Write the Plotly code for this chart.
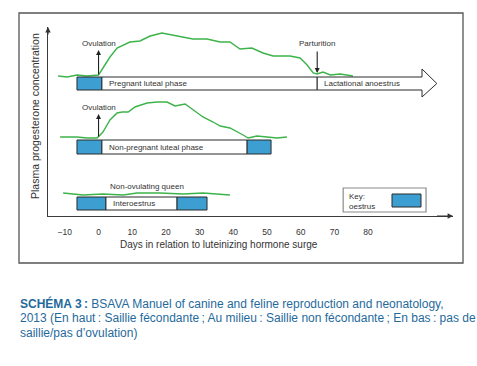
import plotly.graph_objects as go

# ---------------- data ----------------
# Days relative to the LH surge and plasma progesterone (relative units above each row's baseline)
preg_days = [-12.0, -9.3, -6.4, -3.4, 0.0, 3.4, 5.5, 9.3, 12.3, 15.3, 18.8, 22.1, 25.1, 28.0, 32.2,
             36.1, 39.0, 42.0, 45.5, 48.8, 51.8, 56.8, 59.8, 61.9, 63.7, 64.9, 66.6, 68.8, 71.7, 75.5]
preg_p4 = [0, -1, 1, 0, 1, 19, 28, 34, 35, 40, 43, 41, 39, 37, 37,
           34, 34, 27, 28, 23, 20, 20, 18, 11, 3, 2, 4, 1, 2, 0]

nonpreg_days = [-11.4, -6.4, -3.4, -0.4, 1.3, 3.4, 5.5, 7.0, 8.8, 10.8, 14.4, 17.4, 20.3, 22.7,
                25.7, 28.0, 31.0, 34.0, 36.1, 39.0, 41.4, 42.9, 44.4, 47.0, 50.0, 53.0, 55.9]
nonpreg_p4 = [1, 1, 0, 0, 6, 18, 25, 26, 26, 31, 35, 36, 36, 32,
              34, 28, 21, 16, 12, 10, 6, 3, 0, 2, 1, 0, 1]

nonovul_days = [-10.5, -4.6, 1.3, 7.3, 11.4, 18.2, 25.1, 31.0, 39.0]
nonovul_p4 = [1, -1, 0, -1, 1, 1, 0, 1, -1]

# Phases (start day, end day, label)
preg_phases = [(-6.4, 1.0, "oestrus"), (1.0, 64.9, "Pregnant luteal phase"),
               (64.9, 96.0, "Lactational anoestrus")]
nonpreg_phases = [(-6.4, 1.0, "oestrus"), (1.0, 44.1, "Non-pregnant luteal phase"),
                  (44.1, 51.2, "oestrus")]
nonovul_phases = [(-6.4, 2.2, "oestrus"), (2.2, 23.3, "Interoestrus"), (23.3, 32.2, "oestrus")]

ovulation_day = 0.0
parturition_day = 64.9

x_ticks = [-10, 0, 10, 20, 30, 40, 50, 60, 70, 80]

# ---------------- styling ----------------
W, H = 477, 366
ML, MR, MT, MB = 48, 24, 27, 150
GREEN = "#3cb44a"
BLUE = "#3d9fd1"
EDGE = "#2a2a2a"
TXT = "#333333"
FONT = "Liberation Sans, Arial, sans-serif"

def px2paper_x(px):
    return (px - ML) / (W - ML - MR)

def px2paper_y(py):
    return (H - MB - py) / (H - MT - MB)

rows = {  # baseline of curve, bar bottom, bar top
    "preg": (140, 126, 139),
    "nonpreg": (78, 62, 76),
    "nonovul": (22, 6, 19),
}

fig = go.Figure()

for days, p4, key in [(preg_days, preg_p4, "preg"), (nonpreg_days, nonpreg_p4, "nonpreg"),
                      (nonovul_days, nonovul_p4, "nonovul")]:
    base = rows[key][0]
    fig.add_trace(go.Scatter(x=days, y=[base + v for v in p4], mode="lines",
                             line=dict(color=GREEN, width=1.4), hoverinfo="skip",
                             showlegend=False))

shapes = []
annotations = []

def add_phases(phases, key, arrow_last=False):
    _, y0, y1 = rows[key]
    for i, (s, e, label) in enumerate(phases):
        fill = BLUE if label == "oestrus" else "white"
        if arrow_last and i == len(phases) - 1:
            ym = (y0 + y1) / 2
            path = (f"M {s},{y0} L {e},{y0} L {e},{y0-7} L {e+4.4},{ym} L {e},{y1+8} "
                    f"L {e},{y1} L {s},{y1} Z")
            shapes.append(dict(type="path", path=path, xref="x", yref="y",
                               fillcolor="white", line=dict(color=EDGE, width=1)))
        else:
            shapes.append(dict(type="rect", xref="x", yref="y", x0=s, x1=e, y0=y0, y1=y1,
                               fillcolor=fill, line=dict(color=EDGE, width=1)))
        if label != "oestrus":
            annotations.append(dict(x=s + 1.5, y=(y0 + y1) / 2, xref="x", yref="y",
                                    text=label, showarrow=False, xanchor="left",
                                    yanchor="middle",
                                    font=dict(size=8, color=TXT, family=FONT)))

add_phases(preg_phases, "preg", arrow_last=True)
add_phases(nonpreg_phases, "nonpreg")
add_phases(nonovul_phases, "nonovul")

# Ovulation arrows and labels
for key, tip, label_y in [("preg", 166, 173), ("nonpreg", 102, 109)]:
    base = rows[key][0]
    annotations.append(dict(x=ovulation_day, y=tip, ax=ovulation_day, ay=base,
                            xref="x", yref="y", axref="x", ayref="y", text="",
                            showarrow=True, arrowhead=2, arrowsize=0.9, arrowwidth=1.1,
                            arrowcolor="#222"))
    annotations.append(dict(x=ovulation_day, y=label_y, xref="x", yref="y",
                            text="Ovulation", showarrow=False, yanchor="middle",
                            font=dict(size=8, color=TXT, family=FONT)))

# Parturition
annotations.append(dict(x=parturition_day, y=143, ax=parturition_day, ay=166,
                        xref="x", yref="y", axref="x", ayref="y", text="",
                        showarrow=True, arrowhead=2, arrowsize=0.9, arrowwidth=1.1,
                        arrowcolor="#222"))
annotations.append(dict(x=parturition_day, y=173, xref="x", yref="y", text="Parturition",
                        showarrow=False, yanchor="middle",
                        font=dict(size=8, color=TXT, family=FONT)))

annotations.append(dict(x=14.4, y=30, xref="x", yref="y", text="Non-ovulating queen",
                        showarrow=False, yanchor="middle",
                        font=dict(size=8, color=TXT, family=FONT)))

# Key box
shapes.append(dict(type="rect", xref="x", yref="y", x0=72.6, x1=97.2, y0=4, y1=28,
                   fillcolor="white", line=dict(color="#8a8a8a", width=1.2)))
shapes.append(dict(type="rect", xref="x", yref="y", x0=87.1, x1=95.7, y0=9, y1=22,
                   fillcolor=BLUE, line=dict(color=EDGE, width=1)))
annotations.append(dict(x=73.8, y=20, xref="x", yref="y", text="Key:", showarrow=False,
                        xanchor="left", yanchor="middle",
                        font=dict(size=8, color=TXT, family=FONT)))
annotations.append(dict(x=73.8, y=10, xref="x", yref="y", text="oestrus", showarrow=False,
                        xanchor="left", yanchor="middle",
                        font=dict(size=8, color=TXT, family=FONT)))

# Axis arrowheads
annotations.append(dict(x=105.2, y=0, ax=100, ay=0, xref="x", yref="y", axref="x", ayref="y",
                        text="", showarrow=True, arrowhead=2, arrowsize=0.9, arrowwidth=1.2,
                        arrowcolor="#333"))
annotations.append(dict(x=-15, y=189, ax=-15, ay=180, xref="x", yref="y", axref="x", ayref="y",
                        text="", showarrow=True, arrowhead=2, arrowsize=0.9, arrowwidth=1.2,
                        arrowcolor="#333"))

# Axis titles
annotations.append(dict(x=px2paper_x(219), y=px2paper_y(244), xref="paper", yref="paper",
                        text="Days in relation to luteinizing hormone surge", showarrow=False,
                        yanchor="middle", font=dict(size=10, color=TXT, family=FONT)))
annotations.append(dict(x=px2paper_x(35), y=px2paper_y(116), xref="paper", yref="paper",
                        text="Plasma progesterone concentration", showarrow=False,
                        textangle=-90, xanchor="center", yanchor="middle",
                        font=dict(size=10.5, color=TXT, family=FONT)))

# Outer frame
shapes.append(dict(type="rect", xref="paper", yref="paper",
                   x0=px2paper_x(19), x1=px2paper_x(463), y0=px2paper_y(263), y1=px2paper_y(13),
                   line=dict(color="#555555", width=1.3), fillcolor="rgba(0,0,0,0)"))

# Caption
CAP = "#1f6a9c"
CFONT = "Liberation Sans, Arial, sans-serif"
NS = "\u202f"
cap_lines = [
    f"<b>SCHÉMA 3{NS}:</b> BSAVA Manuel of canine and feline reproduction and neonatology,",
    f"2013 (En haut{NS}: Saillie fécondante{NS}; Au milieu{NS}: Saillie non fécondante{NS}; En bas{NS}: pas de",
    "saillie/pas d’ovulation)",
]
for i, line in enumerate(cap_lines):
    annotations.append(dict(x=px2paper_x(18), y=px2paper_y(303 + 15 * i), xref="paper",
                            yref="paper", text=line, showarrow=False, xanchor="left",
                            yanchor="middle", font=dict(size=12, color=CAP, family=CFONT)))

fig.update_layout(
    width=W, height=H,
    margin=dict(l=ML, r=MR, t=MT, b=MB),
    paper_bgcolor="white", plot_bgcolor="white",
    showlegend=False,
    shapes=shapes, annotations=annotations,
    xaxis=dict(range=[-15, 105.2], showgrid=False, zeroline=False, showline=True,
               linecolor="#3a3a3a", linewidth=1.3, tickvals=x_ticks,
               ticktext=[("\u2212" + str(-t)) if t < 0 else str(t) for t in x_ticks],
               ticks="", ticklabelstandoff=8,
               tickfont=dict(size=8.5, color=TXT, family=FONT)),
    yaxis=dict(range=[0, 189], showgrid=False, zeroline=False, showline=True,
               linecolor="#3a3a3a", linewidth=1.3, showticklabels=False, ticks=""),
)

fig.write_html("out.html", config={"displayModeBar": False},
               post_script="document.body.style.margin='0';document.body.style.padding='0';")
